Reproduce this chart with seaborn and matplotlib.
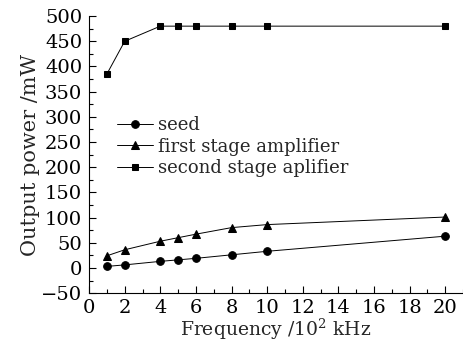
import matplotlib
matplotlib.use("Agg")
import matplotlib.pyplot as plt
import seaborn as sns
import pandas as pd
from matplotlib.ticker import MultipleLocator

freq = [1, 2, 4, 5, 6, 8, 10, 20]
seed = [3, 6, 13, 16, 19, 26, 33, 63]
first_stage = [24, 36, 53, 60, 67, 80, 86, 101]
second_stage = [385, 450, 480, 480, 480, 480, 480, 480]
labels = ["seed", "first stage amplifier", "second stage aplifier"]

sns.set_theme(style="ticks")
plt.rcParams['font.family'] = ['DejaVu Serif']
plt.rcParams['mathtext.fontset'] = 'dejavuserif'

fig = plt.figure(figsize=(4.64, 3.42), dpi=100)
ax = fig.add_axes([0.192, 0.143, 0.806, 0.81])

markers = ["o", "^", "s"]
sizes = [5.5, 6, 5]
for vals, lab, m, ms in zip([seed, first_stage, second_stage], labels, markers, sizes):
    df = pd.DataFrame({"f": freq, "p": vals})
    sns.lineplot(data=df, x="f", y="p", ax=ax, color="black", linewidth=0.7,
                 marker=m, markersize=ms, markeredgecolor="black", label=lab)

ax.set_xlim(0, 21)
ax.set_ylim(-50, 500)
ax.xaxis.set_major_locator(MultipleLocator(2))
ax.xaxis.set_minor_locator(MultipleLocator(1))
ax.yaxis.set_major_locator(MultipleLocator(50))
ax.yaxis.set_minor_locator(MultipleLocator(25))
ax.tick_params(which="both", direction="in", labelsize=14, colors="black", width=0.8)
ax.tick_params(axis="y", pad=5)
ax.tick_params(axis="x", pad=4)
ax.tick_params(which="major", length=5)
ax.tick_params(which="minor", length=3)
for s in ["top", "right"]:
    ax.spines[s].set_visible(False)
for s in ["left", "bottom"]:
    ax.spines[s].set_color("black")
    ax.spines[s].set_linewidth(0.8)

ax.set_xlabel("Frequency /10$^2$ kHz", fontsize=13.5, labelpad=0)
ax.set_ylabel("Output power /mW", fontsize=15, labelpad=1)

ax.legend(loc="upper left", bbox_to_anchor=(0.055, 0.665), frameon=False,
          fontsize=13, handlelength=2.0, handletextpad=0.3, labelspacing=0.2,
          borderaxespad=0)

fig.savefig("out.png", dpi=100)
